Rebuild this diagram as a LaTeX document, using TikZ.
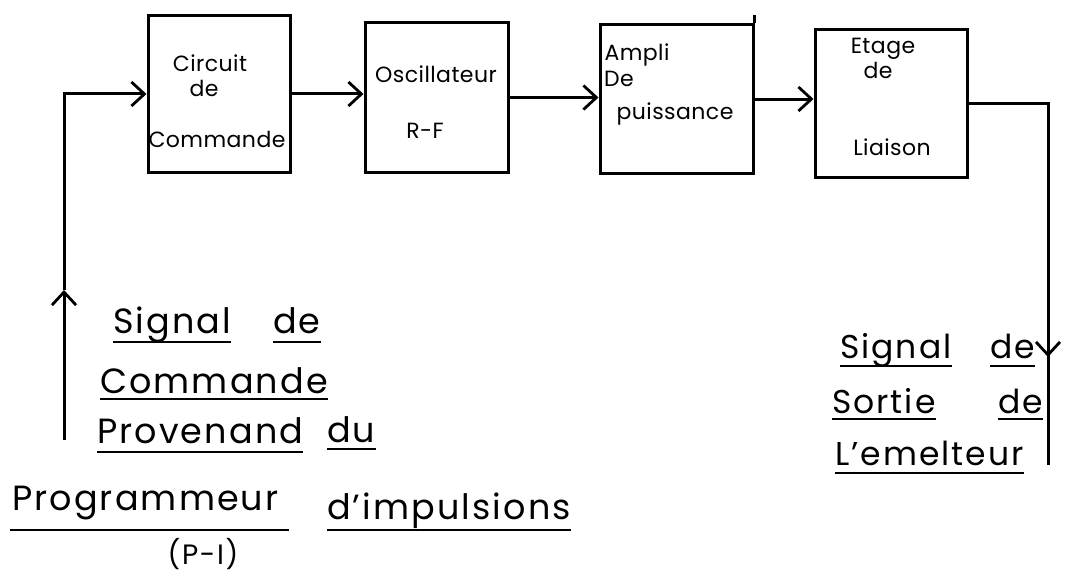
\documentclass[tikz,border=0pt]{standalone}
\usepackage{fontspec}
\setmainfont{Poppins}[LetterSpace=6]
\newfontfamily\stagefont{Poppins}[LetterSpace=2]
\usetikzlibrary{arrows.meta}

\tikzset{
  block/.style={draw, line width=3pt, inner sep=0pt},
  wire/.style={line width=3pt},
  arr/.style={wire, -{Straight Barb[length=13pt,width=24pt,line width=2.8pt]}},
  intxt/.style={anchor=base, inner sep=0pt, font=\stagefont\fontsize{22}{26}\selectfont},
  lbl/.style={anchor=base west, inner sep=0pt, font=\fontsize{35}{40}\selectfont},
  rlbl/.style={anchor=base west, inner sep=0pt, font=\fontsize{33}{38}\selectfont},
  ul/.style={line width=2pt}
}

\begin{document}
\begin{tikzpicture}[x=1pt,y=-1pt]
\useasboundingbox[fill=white] (0,0) rectangle (1066,578);

% chain of stages
\node[block, minimum width=142pt, minimum height=156pt] (b1) at (219,94) {};
\node[block, minimum width=143pt, minimum height=149pt] (b2) at (436.5,97.5) {};
\node[block, minimum width=153pt, minimum height=148pt] (b3) at (676.5,99) {};
\node[block, minimum width=152pt, minimum height=147pt] (b4) at (891,103.5) {};
\draw[line width=3pt] (b3.north east) -- ++(0,-8);

% stage labels
\node[intxt] (t11) at (210,72) {Circuit};
\node[intxt] (t12) at (204,96) {de};
\node[intxt] (t13) at (217,147) {Commande};
\node[intxt] (t21) at (436,82) {Oscillateur};
\node[intxt] (t22) at (425,139) {R-F};
\node[intxt] (t31) at (637,60) {Ampli};
\node[intxt] (t32) at (619,86) {De};
\node[intxt] (t33) at (675,119) {puissance};
\node[intxt] (t41) at (883,54) {Etage};
\node[intxt] (t42) at (878,78) {de};
\node[intxt] (t43) at (892,155) {Liaison};

% links between stages
\draw[arr] (b1.east) -- (b1.east -| b2.west);
\draw[arr] (b2.east) -- (b2.east -| b3.west);
\draw[arr] (b3.east) -- (b3.east -| b4.west);

% control input, rising from the programmer
\coordinate (inbot) at (64,440);
\coordinate (inmid) at (64,290);
\draw[arr] (inbot) -- (inmid);
\draw[arr] (inmid) |- (b1.west);

% transmitter output
\coordinate (outend) at (1048,465);
\coordinate (outmid) at (1048,357);
\draw[wire] (b4.east) -| (outmid);
\draw[arr] (b4.east -| outmid) -- (outmid);
\draw[wire] (outmid) -- (outend);

% input caption
\node[lbl] (s1) at (113,333) {Signal};
\node[lbl] (s2) at (273,333) {de};
\node[lbl] (s3) at (100,393) {Commande};
\node[lbl] (s4) at (97,443) {Provenand};
\node[lbl] (s5) at (327,442) {du};
\node[lbl] (s6) at (12,510) {Programmeur};
\node[lbl] (s7) at (327,519) {d'impulsions};
\node[anchor=base, inner sep=0pt, font=\fontsize{28}{32}\selectfont] (s8) at (203,564) {(P-I)};
\draw[ul] ([yshift=-9pt]s1.base west) -- ([yshift=-9pt]s1.base east);
\draw[ul] ([yshift=-9pt]s2.base west) -- ([yshift=-9pt]s2.base east);
\draw[ul] ([yshift=-6pt]s3.base west) -- ([yshift=-6pt]s3.base east);
\draw[ul] ([yshift=-9pt]s4.base west) -- ([yshift=-9pt]s4.base east);
\draw[ul] ([yshift=-7pt]s5.base west) -- ([yshift=-7pt]s5.base east);
\draw[ul] ([xshift=-2pt,yshift=-20pt]s6.base west) -- ([xshift=10pt,yshift=-20pt]s6.base east);
\draw[ul] ([yshift=-11pt]s7.base west) -- ([yshift=-11pt]s7.base east);

% output caption
\node[rlbl] (r1) at (840,358) {Signal};
\node[rlbl] (r2) at (990,358) {de};
\node[rlbl] (r3) at (832,413) {Sortie};
\node[rlbl] (r4) at (998,413) {de};
\node[rlbl] (r5) at (835,465) {L'emelteur};
\draw[ul] ([yshift=-8pt]r1.base west) -- ([yshift=-8pt]r1.base east);
\draw[ul] ([yshift=-8pt]r2.base west) -- ([yshift=-8pt]r2.base east);
\draw[ul] ([yshift=-6pt]r3.base west) -- ([yshift=-6pt]r3.base east);
\draw[ul] ([yshift=-6pt]r4.base west) -- ([yshift=-6pt]r4.base east);
\draw[ul] ([yshift=-8pt]r5.base west) -- ([yshift=-8pt]r5.base east);
\end{tikzpicture}
\end{document}
